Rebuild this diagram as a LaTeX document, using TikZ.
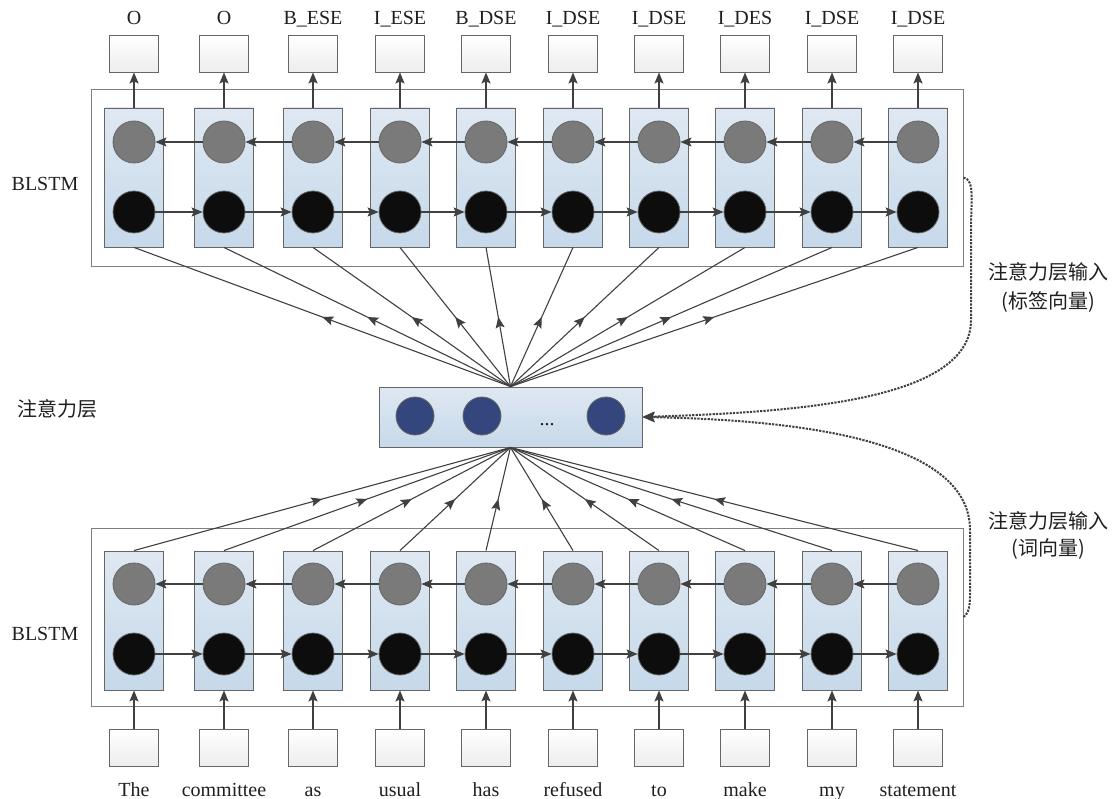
\documentclass[tikz,border=0pt]{standalone}
\usepackage{fontspec}
\setmainfont{Liberation Serif}
\newfontfamily\cjk{Noto Sans CJK SC}
\usetikzlibrary{arrows.meta,decorations.markings}
\definecolor{edgec}{HTML}{404040}
\definecolor{boxedge}{HTML}{666666}
\definecolor{colTop}{HTML}{DFE8F2}
\definecolor{colBot}{HTML}{C6D9EA}
\definecolor{grayc}{HTML}{7A7A7A}
\definecolor{blackc}{HTML}{0D0D0D}
\definecolor{bluec}{HTML}{34467E}
\definecolor{outline}{HTML}{7F7F7F}
\begin{document}
\begin{tikzpicture}[x=1pt,y=-1pt,
  every node/.style={font=\fontsize{20}{24}\selectfont, text=black!88},
  colbox/.style={draw=boxedge, line width=0.9pt, top color=colTop, bottom color=colBot, minimum width=59pt, minimum height=139pt, inner sep=0pt},
  outerbox/.style={draw=outline, line width=0.9pt, minimum width=872pt, inner sep=0pt},
  iobox/.style={draw=boxedge, line width=0.9pt, top color=white, bottom color=black!7, minimum width=49pt, minimum height=37pt, inner sep=0pt},
  graycirc/.style={circle, draw=boxedge, line width=0.8pt, fill=grayc, minimum size=42pt, inner sep=0pt},
  blackcirc/.style={circle, draw=boxedge, line width=0.8pt, fill=blackc, minimum size=42pt, inner sep=0pt},
  bluecirc/.style={circle, draw=boxedge, line width=0.8pt, fill=bluec, minimum size=38pt, inner sep=0pt},
  attnbox/.style={draw=boxedge, line width=0.9pt, top color=colTop, bottom color=colBot, minimum width=263pt, minimum height=60pt, inner sep=0pt},
  conn/.style={draw=edgec, line width=1.3pt, -{Stealth[length=11pt,width=9pt,inset=2pt]}},
  fan/.style={draw=edgec, line width=1.1pt, postaction={decorate},
    decoration={markings, mark=at position 0.5 with {\arrow[edgec]{Stealth[length=11pt,width=9pt,inset=2pt]}}}},
  dotconn/.style={draw=black!75, line width=2pt, dash pattern=on 2.2pt off 1.2pt, -{Stealth[length=12pt,width=10pt,inset=2pt]}},
  lab/.style={anchor=base}
]
\useasboundingbox (0,0) rectangle (1113,799);

% outer frames
\node[outerbox, minimum height=177pt] (tout) at (527,177.5) {};
\node[outerbox, minimum height=178pt] (bout) at (527,617) {};

% attention layer
\node[attnbox] (attn) at (510.5,417) {};
\node[bluecirc] (a1) at (415,416) {};
\node[bluecirc] (a2) at (482,416) {};
\node[bluecirc] (a3) at (606,416) {};
\node[lab] (adots) at (547,425) {...};

% columns
\foreach \x/\toplab/\wrd [count=\i] in {134/O/The,224/O/committee,313/B\_ESE/as,400/I\_ESE/usual,486/B\_DSE/has,573/I\_DSE/refused,659/I\_DSE/to,745/I\_DES/make,832/I\_DSE/my,918/I\_DSE/statement}{
  % top
  \node[colbox] (tc\i) at (\x,177.5) {};
  \node[graycirc] (tg\i) at (\x,142) {};
  \node[blackcirc] (tb\i) at (\x,212) {};
  \node[iobox] (to\i) at (\x,53.5) {};
  \node[lab] (tl\i) at (\x,25) {\toplab};
  \draw[conn] (tc\i.north) -- (to\i.south);
  % bottom
  \node[colbox] (bc\i) at (\x,620.5) {};
  \node[graycirc] (bg\i) at (\x,584) {};
  \node[blackcirc] (bb\i) at (\x,654) {};
  \node[iobox] (bi\i) at (\x,747.5) {};
  \node[lab] (bw\i) at (\x,796) {\wrd};
  \draw[conn] (bi\i.north) -- (bc\i.south);
  % fans
  \draw[fan] (attn.north) -- (tc\i.south);
  \draw[fan] (bc\i.north) -- (attn.south);
}

% horizontal recurrences
\foreach \i [evaluate=\i as \j using int(\i+1)] in {1,...,9}{
  \draw[conn] (tg\j.west) -- (tg\i.east);
  \draw[conn] (tb\i.east) -- (tb\j.west);
  \draw[conn] (bg\j.west) -- (bg\i.east);
  \draw[conn] (bb\i.east) -- (bb\j.west);
}

% labels
\node[lab] (blstm1) at (45,191) {BLSTM};
\node[lab] (blstm2) at (45,640) {BLSTM};
\node[lab] (attnlab) at (57,416) {\cjk 注意力层};
\node[lab] (in1a) at (1048,280) {\cjk 注意力层输入};
\node[lab] (in1b) at (1048,309) {\cjk (标签向量)};
\node[lab] (in2a) at (1048,528) {\cjk 注意力层输入};
\node[lab] (in2b) at (1048,555) {\cjk (词向量)};

% dotted connectors
\draw[dotconn] (tout.east) .. controls (975,180) and (971,200) .. (971,230) -- (971,320) .. controls (971,400) and (800,412) .. (attn.east);
\draw[dotconn] (bout.east) .. controls (971,612) and (970,600) .. (970,580) -- (970,530) .. controls (970,440) and (800,420) .. (attn.east);
\end{tikzpicture}
\end{document}
